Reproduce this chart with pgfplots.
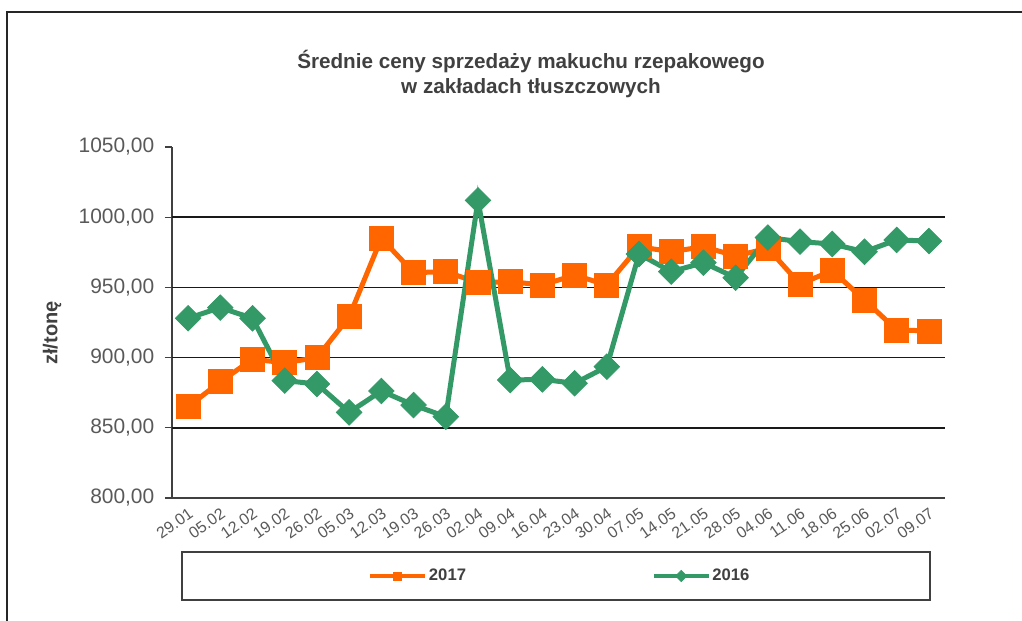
\documentclass[border=0pt]{standalone}
\usepackage{pgfplots}
\pgfplotsset{compat=1.18}
\usepackage{fontspec}
\setmainfont{Liberation Sans}
\definecolor{orng}{RGB}{255,102,0}
\definecolor{grn}{RGB}{51,153,102}
\definecolor{txtgray}{RGB}{89,89,89}
\definecolor{ttlgray}{RGB}{64,64,64}
\definecolor{axgray}{RGB}{64,64,64}
\begin{document}
\begin{tikzpicture}[x=0.75pt,y=0.75pt]
\path[use as bounding box] (0,0) rectangle (1022,621);
% outer frame
\draw[line width=1.5pt, black!85] (7,0) -- (7,609) -- (1022,609);
% legend frame
\draw[line width=1.3pt, axgray] (182,69) rectangle (930,21);
% title
\node[font=\bfseries\fontsize{15.5}{19}\selectfont, text=ttlgray, align=center] at (531,547) {Średnie ceny sprzedaży makuchu rzepakowego\\w zakładach tłuszczowych};
\begin{axis}[
  at={(129pt,92.25pt)}, anchor=south west,
  scale only axis, width=579.75pt, height=263.25pt,
  axis lines*=left,
  axis line style={axgray, line width=1.1pt},
  xmin=-0.5, xmax=23.5, ymin=800, ymax=1050,
  ytick={800,850,...,1050},
  xtick={0,...,23},
  xticklabels={29.01,05.02,12.02,19.02,26.02,05.03,12.03,19.03,26.03,02.04,09.04,16.04,23.04,30.04,07.05,14.05,21.05,28.05,04.06,11.06,18.06,25.06,02.07,09.07},
  minor xtick={-0.5,0.5,...,23.5},
  xtick style={draw=none},
  minor x tick style={axgray, line width=1pt},
  ytick style={axgray, line width=1pt},
  tick align=outside,
  major tick length=5.25pt,
  minor tick length=4pt,
  extra y ticks={850,900,950,1000},
  extra y tick labels={},
  extra y tick style={grid=major, major grid style={black!90, line width=1.1pt}},
  yticklabel style={font=\fontsize{15.7}{17}\selectfont, text=txtgray, xshift=-4.5pt,
    /pgf/number format/.cd, fixed, fixed zerofill, precision=2, use comma, 1000 sep={}, assume math mode=true},
  xticklabel style={font=\fontsize{12}{13}\selectfont, text=txtgray, rotate=35, anchor=north east, inner sep=1pt},
  ylabel={zł/tonę},
  ylabel style={font=\bfseries\fontsize{15}{17}\selectfont, text=ttlgray, at={(axis description cs:-0.155,0.47)}, anchor=center},
  legend columns=2,
  legend style={at={(axis description cs:0.502,-0.222)}, anchor=center, draw=none, fill=none,
    font=\bfseries\fontsize{12.5}{14}\selectfont, text=ttlgray,
    /tikz/every even column/.append style={column sep=138pt},
    nodes={inner sep=1.5pt}},
  legend image code/.code={\draw[#1, line width=2.6pt, mark repeat=2, mark phase=2, mark size=3pt] plot coordinates {(0pt,0pt) (20.6pt,0pt) (41.2pt,0pt)};},
]
\addplot[orng, line width=3.75pt, mark=square*, mark size=9pt, mark options={fill=orng, draw=orng, line width=0.5pt}] coordinates {
(0,865.0) (1,882.8) (2,898.8) (3,896.4) (4,899.9) (5,929.1) (6,985.0) (7,960.5) (8,961.2) (9,953.4) (10,954.1) (11,951.7) (12,958.8) (13,951.7) (14,979.0) (15,975.4) (16,979.0) (17,972.4) (18,977.8) (19,952.4) (20,961.9) (21,941.0) (22,919.7) (23,919.0)
};
\addlegendentry{2017}
\addplot[grn, line width=3.75pt, mark=square*, mark size=6.8pt, mark options={rotate=45, fill=grn, draw=grn, line width=0.5pt}] coordinates {
(0,928.0) (1,935.6) (2,928.0) (3,883.6) (4,881.2) (5,861.0) (6,876.2) (7,866.2) (8,857.9) (9,1012.0) (10,884.0) (11,884.5) (12,881.7) (13,893.5) (14,973.8) (15,961.2) (16,967.6) (17,956.9) (18,985.5) (19,982.6) (20,980.9) (21,975.4) (22,983.8) (23,983.0)
};
\addlegendentry{2016}
\end{axis}
\end{tikzpicture}
\end{document}
